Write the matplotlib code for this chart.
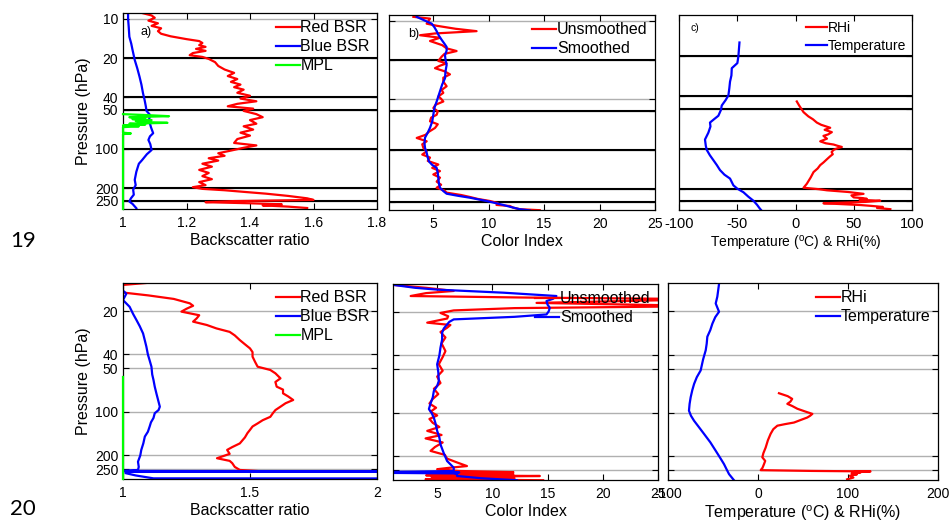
import matplotlib
matplotlib.use("Agg")
import matplotlib.pyplot as plt
from matplotlib.ticker import FixedLocator, FixedFormatter, NullLocator

plt.rcParams['font.family'] = ['Liberation Sans', 'DejaVu Sans']

W, H = 952, 522

# pressure levels (hPa) used for ticks and grid lines
levels_19 = [10, 20, 40, 50, 100, 200, 250]
levels_20 = [20, 40, 50, 100, 200, 250]
# layer boundaries drawn in black (case 19 only)
black_a19 = [20, 40, 50, 100, 200, 250]
black_b19 = [20, 50, 100, 200, 250]
black_c19 = [20, 40, 50, 100, 200, 250]

# ---------------- case 19 ----------------
p19_red = [9.0, 9.4, 9.8, 10.3, 10.8, 11.3, 11.8, 12.4, 13.0, 13.6,
           14.3, 14.8, 15.3, 15.9, 16.4, 17.0, 17.6, 18.3, 19.0, 19.6,
           20.3, 21.5, 23.0, 24.5, 26.0, 27.5, 29.0, 30.5, 32.0, 33.5,
           35.0, 37.0, 39.0, 41.0, 43.0, 45.0, 47.0, 49.0, 51.0, 54.0,
           57.0, 60.0, 64.0, 67.0, 71.0, 75.0, 79.0, 84.0, 90.0, 94.0,
           98.0, 103, 108, 113, 118, 123, 130, 137, 145, 153,
           162, 171, 180, 190, 197, 203, 208, 214, 221, 230,
           240, 247, 252, 257, 262, 267, 272, 278, 285]
bsr19_red = [1.06, 1.09, 1.10, 1.08, 1.11, 1.09, 1.12, 1.11, 1.12, 1.15,
             1.20, 1.24, 1.25, 1.24, 1.26, 1.23, 1.26, 1.22, 1.21, 1.25,
             1.27, 1.29, 1.30, 1.32, 1.35, 1.33, 1.36, 1.34, 1.37, 1.35,
             1.38, 1.36, 1.40, 1.37, 1.42, 1.36, 1.33, 1.41, 1.38, 1.42,
             1.44, 1.40, 1.42, 1.38, 1.41, 1.37, 1.40, 1.36, 1.35, 1.42,
             1.38, 1.34, 1.30, 1.32, 1.27, 1.30, 1.25, 1.28, 1.24, 1.27,
             1.25, 1.28, 1.24, 1.26, 1.22, 1.25, 1.32, 1.38, 1.45, 1.52,
             1.58, 1.60, 1.35, 1.26, 1.40, 1.50, 1.44, 1.52, 1.58]

p19_blue = [9.0, 10, 11.5, 13.7, 15.5, 17.3, 20.7, 24, 27.8, 32,
            37.3, 42, 47.2, 51, 54.7, 60, 68, 75.7, 80, 85.3,
            92, 102, 110, 122, 130, 137, 150, 173, 190, 206,
            225, 240, 254, 265, 286]
bsr19_blue = [1.016, 1.016, 1.018, 1.02, 1.026, 1.03, 1.037, 1.045, 1.052, 1.058,
              1.063, 1.068, 1.072, 1.074, 1.085, 1.082, 1.088, 1.095, 1.085, 1.08,
              1.086, 1.09, 1.075, 1.06, 1.05, 1.047, 1.042, 1.037, 1.04, 1.032,
              1.034, 1.025, 1.02, 1.03, 1.042]

p19_mpl = [54, 55, 56, 57, 58, 59, 60, 61, 62, 63, 64,
           65, 66, 67, 68, 70, 73, 75, 76, 77, 80, 290]
mpl19 = [1.0, 1.08, 1.145, 1.02, 1.07, 1.03, 1.09, 1.04, 1.06, 1.14, 1.02,
         1.07, 1.0, 1.05, 1.0, 1.0, 1.0, 1.0, 1.025, 1.0, 1.0, 1.0]

p19_un = [9.3, 9.6, 10.5, 10.9, 11.5, 12.0, 12.5, 12.9, 13.5, 14.3,
          15.4, 16.3, 17.1, 18.0, 18.9, 20.4, 21.3, 22.2, 23.2, 24.5,
          25.9, 27.5, 29.5, 32.0, 34.2, 36.0, 38.4, 40.0, 42.0, 44.5,
          47.2, 50.0, 53.2, 56.0, 59.8, 63.0, 67.3, 72.0, 76.0, 80.4,
          85.3, 90.0, 96.0, 102, 108, 114, 121, 129, 137, 145,
          154, 163, 175, 185, 195, 205, 213, 222, 230, 238,
          247, 256, 265, 270, 278, 286, 291]
ci19_un = [3.2, 4.7, 4.4, 5.3, 7.0, 8.9, 5.15, 3.8, 5.6, 4.7,
           5.8, 6.2, 7.1, 6.0, 5.75, 5.45, 6.2, 5.6, 5.15, 6.0,
           6.5, 5.9, 5.9, 6.2, 5.75, 5.9, 5.45, 5.7, 5.9, 5.2,
           5.0, 5.4, 5.3, 4.8, 4.7, 5.4, 5.15, 4.6, 4.3, 3.5,
           4.4, 4.0, 4.1, 4.4, 4.0, 4.7, 4.5, 5.45, 4.9, 5.6,
           5.0, 5.6, 5.3, 5.7, 5.3, 6.0, 6.2, 7.5, 8.3, 9.0,
           10.1, 10.8, 10.7, 11.9, 12.2, 12.8, 14.6]

p19_sm = [9.3, 10.0, 10.5, 11.2, 12.0, 13.0, 14.0, 15.0, 15.9, 17.0,
          18.4, 20.0, 21.9, 24.5, 27.8, 31.0, 35.0, 42.0, 47.0, 53.0,
          60.0, 67.0, 73.0, 80.0, 88.0, 96.0, 105, 114, 122, 130,
          137, 150, 163, 180, 195, 207, 217, 225, 233, 247,
          255, 265, 275, 286, 292]
ci19_sm = [3.5, 4.3, 4.85, 5.1, 5.3, 5.5, 5.75, 6.0, 6.2, 6.2,
           6.05, 6.1, 6.2, 6.1, 6.05, 5.8, 5.6, 5.3, 5.1, 5.0,
           4.9, 4.7, 4.5, 4.25, 4.2, 4.25, 4.4, 4.5, 4.6, 4.9,
           5.3, 5.4, 5.45, 5.5, 5.6, 5.9, 6.2, 7.2, 8.3, 9.8,
           10.5, 11.3, 12.0, 12.8, 13.7]

p19_rh = [44, 47, 50, 53, 57, 60, 63.5, 66, 69.5, 72,
          75, 78, 80, 84, 88, 91, 93, 95, 97, 100,
          102, 106, 110, 114, 120, 127, 133, 141, 150, 165,
          184, 197, 202, 206, 212, 219, 225, 233, 236, 239,
          243, 247, 252, 258, 262, 266, 270, 275, 280, 286]
rh19 = [1.1, 3.0, 5.0, 6.9, 11.0, 15.0, 18.3, 22.0, 29.8, 25.0,
        31.2, 28.0, 24.0, 27.0, 21.2, 26.0, 32.7, 36.0, 39.8, 35.0,
        32.7, 31.0, 32.0, 29.8, 27.0, 24.0, 21.2, 19.0, 15.5, 13.0,
        9.7, 6.9, 20.0, 27.0, 45.0, 58.4, 48.0, 50.0, 58.0, 61.3,
        55.0, 72.8, 60.0, 24.0, 40.0, 55.6, 65.0, 75.0, 70.0, 81.4]

p19_t = [15.8, 17.5, 20.0, 22.6, 24.7, 28.0, 31.2, 35.0, 39.6, 43.0,
         47.2, 51.0, 56.4, 60.0, 63.5, 68.0, 75.7, 85.3, 95.0, 102,
         112, 122, 133, 145, 157, 168, 189, 200, 213, 230,
         247, 265, 280, 294]
t19 = [-48.1, -48.5, -49.0, -49.9, -54.7, -55.0, -56.2, -56.8, -57.6, -60.0,
       -63.3, -64.0, -66.2, -70.0, -73.4, -73.0, -74.8, -77.7, -77.0, -76.2,
       -73.5, -70.5, -67.5, -64.8, -61.0, -56.2, -53.3, -50.0, -44.7, -40.5,
       -36.1, -33.0, -31.0, -29.0]

# ---------------- case 20 ----------------
p20_red = [12.8, 13.2, 14.9, 15.6, 16.5, 17.7, 18.4, 19.3, 20.2, 21.4,
           22.5, 23.7, 25.0, 26.4, 27.9, 29.5, 31.8, 34.0, 36.3, 38.5,
           41.4, 45.0, 48.6, 51.2, 54.0, 58.5, 62.0, 66.8, 70.0, 74.3,
           78.0, 82.6, 87.0, 91.9, 97.0, 102, 108, 114, 120, 126,
           133, 140, 150, 165, 175, 183, 195, 209, 218, 226,
           240, 252, 257, 259]
bsr20_red = [1.09, 1.0, 1.0, 1.10, 1.20, 1.263, 1.276, 1.25, 1.23, 1.30,
             1.29, 1.276, 1.33, 1.368, 1.42, 1.44, 1.46, 1.48, 1.50, 1.51,
             1.51, 1.52, 1.53, 1.58, 1.60, 1.62, 1.60, 1.605, 1.63, 1.63,
             1.65, 1.67, 1.64, 1.62, 1.60, 1.59, 1.58, 1.55, 1.53, 1.51,
             1.50, 1.49, 1.48, 1.46, 1.43, 1.41, 1.42, 1.37, 1.42, 1.43,
             1.44, 1.46, 1.54, 1.45]

p20_blue = [14.5, 14.7, 15.2, 16.8, 18.7, 21.0, 23.1, 25.5, 28.6, 32.0,
            35.3, 40.0, 44.0, 48.6, 55.0, 60.0, 66.8, 75.0, 85.0, 91.9,
            97.0, 102, 110, 118, 126, 137, 148, 165, 183, 200,
            221, 240, 252, 256, 258, 260, 265, 275, 288, 289]
bsr20_blue = [1.0, 1.005, 1.013, 1.0, 1.026, 1.04, 1.053, 1.066, 1.079, 1.086,
              1.092, 1.098, 1.105, 1.112, 1.115, 1.12, 1.125, 1.132, 1.14, 1.145,
              1.14, 1.125, 1.12, 1.11, 1.105, 1.098, 1.086, 1.08, 1.072, 1.068,
              1.059, 1.062, 1.059, 1.0, 3.0, 1.01, 1.01, 1.05, 1.12, 3.0]

p20_mpl = [57, 290]
mpl20 = [1.0, 1.0]

p20_un = [13.0, 13.6, 14.3, 14.8, 15.5, 15.9, 16.3, 17.3, 18.2, 18.8,
          19.5, 20.3, 21.4, 22.2, 23.7, 24.6, 25.7, 27.5, 30.0, 33.0,
          37.3, 41.0, 46.0, 51.0, 56.0, 62.0, 68.0, 74.0, 80.0, 86.0,
          92.0, 98.0, 104, 110, 117, 125, 133, 142, 150, 160,
          172, 183, 195, 207, 220, 233, 240, 245, 252, 257,
          261, 265, 270, 273, 278, 283, 288, 292]
ci20_un = [1.1, 4.0, 6.5, 4.0, 2.6, 13.4, 30.0, 14.0, 30.0, 12.0,
           6.5, 5.3, 6.0, 5.9, 4.1, 6.2, 5.9, 5.3, 5.75, 5.4,
           5.75, 5.5, 5.15, 5.5, 5.0, 5.3, 4.7, 5.1, 4.6, 4.3,
           4.9, 4.4, 5.0, 4.3, 4.6, 5.2, 4.1, 5.4, 3.95, 5.5,
           4.8, 4.4, 5.7, 5.9, 6.8, 7.7, 6.0, 5.0, 7.0, 11.9,
           5.5, 11.9, 4.0, 14.3, 4.5, 12.0, 3.95, 14.6]

p20_sm = [13.0, 13.6, 14.0, 14.7, 15.5, 16.2, 16.8, 17.8, 18.7, 19.8,
          20.8, 21.6, 22.5, 23.4, 24.4, 26.0, 27.8, 31.0, 35.3, 40.0,
          46.0, 52.0, 60.0, 65.0, 70.4, 78.0, 86.0, 94.0, 100, 108,
          118, 133, 148, 165, 190, 215, 239, 252, 256, 258,
          260, 262, 265, 273, 283, 292]
ci20_sm = [1.1, 3.0, 5.0, 11.0, 15.8, 15.5, 14.9, 15.0, 15.2, 15.1,
           14.9, 12.0, 6.5, 6.1, 5.9, 5.6, 5.45, 5.45, 5.3, 5.2,
           5.0, 5.1, 5.15, 5.0, 4.7, 4.6, 4.4, 4.25, 4.5, 4.7,
           4.85, 5.0, 5.2, 5.3, 5.6, 5.9, 6.5, 6.5, 1.1, 7.0,
           1.1, 6.5, 6.8, 6.8, 9.0, 12.2]

p20_rh = [73.5, 75.5, 77.0, 80.4, 84.0, 87.0, 90.0, 94.0, 98.0, 102,
          105, 108, 112, 117, 120, 123, 130, 140, 155, 174,
          190, 203, 215, 226, 240, 249, 252, 254, 256, 258,
          262, 266, 272, 280, 288]
rh20 = [23.3, 28.9, 33.0, 38.0, 36.0, 32.6, 38.0, 43.7, 52.0, 60.4,
        58.0, 54.8, 48.0, 40.0, 30.0, 21.5, 17.0, 14.0, 11.0, 8.5,
        6.0, 4.8, 8.0, 6.7, 5.0, 3.0, 60.0, 125.0, 106.7, 114.0,
        104.0, 110.0, 102.0, 106.0, 99.0]

p20_t = [13.0, 15.9, 17.7, 20.2, 22.0, 24.4, 27.0, 30.0, 33.5, 37.2,
         43.0, 51.2, 57.0, 63.4, 70.0, 78.3, 87.0, 96.9, 105, 113.6,
         125, 140, 160, 183, 205, 226, 245, 265, 292]
t20 = [-43.3, -45.2, -47.0, -43.3, -47.5, -50.7, -53.0, -56.3, -57.0, -58.1,
       -61.0, -63.7, -68.0, -71.0, -73.0, -74.8, -76.0, -76.7, -74.5, -71.1,
       -66.0, -60.0, -53.0, -47.0, -42.0, -37.8, -35.0, -32.2, -26.7]

RED, BLUE, GREEN = '#ff0000', '#0000ff', '#00ff00'
LW = 1.6

fig = plt.figure(figsize=(W / 100, H / 100), dpi=100)


def panel(l, t, r, b):
    return fig.add_axes([l / W, 1 - b / H, (r - l) / W, (b - t) / H])


def style(ax, ylim, levels, black, xlim, xticks, xlabels, ylab=False, tsize=10):
    ax.set_yscale('log')
    ax.set_ylim(ylim[1], ylim[0])
    ax.set_xlim(*xlim)
    ax.yaxis.set_major_locator(FixedLocator(levels))
    ax.yaxis.set_minor_locator(NullLocator())
    ax.yaxis.set_major_formatter(FixedFormatter([str(v) for v in levels]))
    ax.set_xticks(xticks)
    ax.set_xticklabels(xlabels)
    ax.xaxis.set_minor_locator(NullLocator())
    ax.tick_params(direction='in', top=True, right=True, length=4, width=0.8,
                   labelsize=tsize, labelleft=ylab)
    ax.tick_params(axis='x', pad=5)
    for v in levels:
        ax.axhline(v, color='#b0b0b0', lw=1.0, zorder=0.5)
    for v in black:
        ax.axhline(v, color='k', lw=1.5, zorder=1)
    for s in ax.spines.values():
        s.set_linewidth(0.9)


def legend(ax, size, **kw):
    ax.legend(loc='upper right', frameon=False, fontsize=size, handlelength=1.5,
              handletextpad=0.05, labelspacing=0.25, borderaxespad=0.25, borderpad=0.2, **kw)


# ---- row 19 ----
ax = panel(123, 13, 377, 209)
style(ax, (9, 290), levels_19, black_a19, (1, 1.8), [1, 1.2, 1.4, 1.6, 1.8],
      ['1', '1.2', '1.4', '1.6', '1.8'], ylab=True)
ax.plot(bsr19_red, p19_red, color=RED, lw=LW, label='Red BSR')
ax.plot(bsr19_blue, p19_blue, color=BLUE, lw=LW, label='Blue BSR')
ax.plot(mpl19, p19_mpl, color=GREEN, lw=LW, label='MPL', zorder=3, clip_on=False)
ax.text(1.055, 13.2, 'a)', fontsize=9)
ax.set_xlabel('Backscatter ratio', fontsize=11.5, labelpad=2)
ax.set_ylabel('Pressure (hPa)', fontsize=11.5, labelpad=3)
legend(ax, 11.5)

ax = panel(389, 15, 655, 210)
style(ax, (9, 290), levels_19, black_b19, (1, 25), [5, 10, 15, 20, 25],
      ['5', '10', '15', '20', '25'])
ax.plot(ci19_un, p19_un, color=RED, lw=LW, label='Unsmoothed')
ax.plot(ci19_sm, p19_sm, color=BLUE, lw=LW, label='Smoothed')
ax.text(2.7, 13.2, 'b)', fontsize=9)
ax.set_xlabel('Color Index', fontsize=11.5, labelpad=2)
legend(ax, 11.5)

ax = panel(679, 15, 912, 210)
style(ax, (9.8, 290), levels_19[1:], black_c19, (-100, 100), [-100, -50, 0, 50, 100],
      ['-100', '-50', '0', '50', '100'], tsize=10.5)
ax.plot(rh19, p19_rh, color=RED, lw=LW, label='RHi')
ax.plot(t19, p19_t, color=BLUE, lw=LW, label='Temperature')
ax.text(-90, 13.0, 'c)', fontsize=7.5)
ax.set_xlabel('Temperature ($^{\\mathregular{o}}$C) & RHi(%)', fontsize=10, labelpad=2)
legend(ax, 10)

# ---- row 20 ----
ax = panel(123, 283, 377, 479)
style(ax, (12.8, 291), levels_20, [], (1, 2), [1, 1.5, 2], ['1', '1.5', '2'], ylab=True)
ax.plot(bsr20_red, p20_red, color=RED, lw=LW, label='Red BSR')
ax.plot(bsr20_blue, p20_blue, color=BLUE, lw=LW, label='Blue BSR')
ax.plot(mpl20, p20_mpl, color=GREEN, lw=LW, label='MPL', zorder=3, clip_on=False)
ax.set_xlabel('Backscatter ratio', fontsize=11.5, labelpad=2)
ax.set_ylabel('Pressure (hPa)', fontsize=11.5, labelpad=3)
legend(ax, 11.5)

ax = panel(393, 284, 658, 480)
style(ax, (12.8, 291), levels_20, [], (1, 25), [5, 10, 15, 20, 25],
      ['5', '10', '15', '20', '25'])
ax.plot(ci20_un, p20_un, color=RED, lw=LW, label='Unsmoothed')
ax.plot(ci20_sm, p20_sm, color=BLUE, lw=LW, label='Smoothed')
ax.set_xlabel('Color Index', fontsize=11.5, labelpad=2)
legend(ax, 11.5)

ax = panel(668, 283, 938, 480)
style(ax, (12.8, 291), levels_20, [], (-100, 200), [-100, 0, 100, 200],
      ['-100', '0', '100', '200'])
ax.plot(rh20, p20_rh, color=RED, lw=LW, label='RHi')
ax.plot(t20, p20_t, color=BLUE, lw=LW, label='Temperature')
ax.set_xlabel('Temperature ($^{\\mathregular{o}}$C) & RHi(%)', fontsize=11.5, labelpad=2)
legend(ax, 11.5)

fig.text(10 / W, 1 - 241 / H, '19', fontsize=16, family=['Lato', 'DejaVu Sans'], va='center')
fig.text(10 / W, 1 - 509 / H, '20', fontsize=16, family=['Lato', 'DejaVu Sans'], va='center')

fig.savefig('out.png', dpi=100)
